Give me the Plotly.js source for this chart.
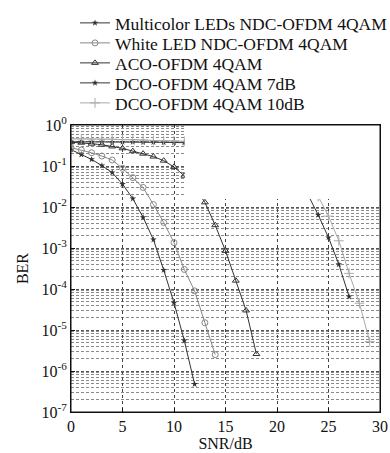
<!DOCTYPE html>
<html>
<head>
<meta charset="utf-8">
<script src="https://cdn.plot.ly/plotly-3.0.1.min.js"></script>
<style>html,body{margin:0;padding:0;background:#fff;}#chart{width:390px;height:453px;}</style>
</head>
<body>
<div id="chart"></div>
<script>
// ---- data ----
const seriesNames = [
  'Multicolor LEDs NDC-OFDM 4QAM',
  'White LED NDC-OFDM 4QAM',
  'ACO-OFDM 4QAM',
  'DCO-OFDM 4QAM 7dB',
  'DCO-OFDM 4QAM 10dB'
];
const snrMulticolor = [0,1,2,3,4,5,6,7,8,9,10,11,12];
const berMulticolor = [0.25,0.19,0.145,0.102,0.069,0.036,0.016,5.6e-3,1.6e-3,2.9e-4,4.6e-5,5.5e-6,4.8e-7];

const snrWhite = [0,1,2,3,4,5,6,7,8,9,10,11,12,13,14];
const berWhite = [0.28,0.245,0.21,0.175,0.14,0.088,0.052,0.03,0.0115,4.2e-3,1.35e-3,3e-4,9e-5,1.5e-5,2.5e-6];

const snrACO = [0,1,2,3,4,5,6,7,8,9,10,11,12,13,14,15,16,17,18];
const berACO = [0.38,0.37,0.35,0.33,0.3,0.27,0.23,0.2,0.17,0.135,0.095,0.058,0.03,0.013,3.6e-3,8.5e-4,1.6e-4,3e-5,2.6e-6];

const snrDCO7 = [0,1,2,3,4,5,6,7,8,9,10,11,23,24,25,26,27];
const berDCO7 = [0.39,0.39,0.39,0.39,0.385,0.385,0.385,0.38,0.38,0.375,0.375,0.37,0.02,6.4e-3,1.8e-3,4e-4,6.5e-5];

const snrDCO10 = [0,1,2,3,4,5,6,7,8,9,10,11,24,25,26,27,28,29];
const berDCO10 = [0.46,0.46,0.455,0.45,0.45,0.44,0.44,0.43,0.42,0.415,0.41,0.40,0.018,6e-3,1.5e-3,2.4e-4,4.5e-5,5.2e-6];

const xTicks = [0,5,10,15,20,25,30];
const yTicks = [1,1e-1,1e-2,1e-3,1e-4,1e-5,1e-6,1e-7];
const yTickText = ['10<sup>0</sup>','10<sup>-1</sup>','10<sup>-2</sup>','10<sup>-3</sup>','10<sup>-4</sup>','10<sup>-5</sup>','10<sup>-6</sup>','10<sup>-7</sup>'];

// minor log grid (2..9 in each decade)
const yMinor = [];
for (let e = -7; e < 0; e++) for (let m = 2; m <= 9; m++) yMinor.push(m * Math.pow(10, e));

const FONT = 'Liberation Serif, Times New Roman, serif';

function tr(x, y, i, color, symbol, size, lw, mlw, legendId) {
  return {
    x: x, y: y, name: seriesNames[i], type: 'scatter', mode: 'lines+markers',
    line: {color: color, width: lw},
    marker: {symbol: symbol, size: size, color: color, line: {color: color, width: mlw}},
    legend: legendId
  };
}

const traces = [
  tr(snrMulticolor, berMulticolor, 0, '#333', 'star', 5, 1, 0, 'legend'),
  tr(snrWhite, berWhite, 1, '#888', 'circle-open', 6, 1, 1, 'legend2'),
  tr(snrACO, berACO, 2, '#333', 'triangle-up-open', 6, 1, 1, 'legend3'),
  tr(snrDCO7, berDCO7, 3, '#333', 'star', 5, 1, 0, 'legend4'),
  tr(snrDCO10, berDCO10, 4, '#aaa', 'cross-thin', 7, 1, 1, 'legend5')
];

function leg(py) {
  return {x: 0.013, xanchor: 'left', y: 1 + (125 - py) / 287, yanchor: 'middle',
    bgcolor: 'rgba(0,0,0,0)', borderwidth: 0, font: {family: FONT, size: 17.5, color: '#111'}};
}

const layout = {
  width: 390, height: 453,
  margin: {l: 71, r: 10, t: 125, b: 41, pad: 0, autoexpand: false},
  paper_bgcolor: '#fff', plot_bgcolor: '#fff',
  showlegend: true,
  legend: leg(23), legend2: leg(43), legend3: leg(63), legend4: leg(83), legend5: leg(103),
  font: {family: FONT, color: '#111'},
  xaxis: {
    range: [0, 30], tickvals: xTicks, ticktext: xTicks.map(String),
    showgrid: true, gridcolor: '#444', griddash: '3px,3px', gridwidth: 1,
    zeroline: false, showline: true, linecolor: '#111', linewidth: 1, mirror: true,
    ticks: 'inside', ticklen: 4, tickcolor: '#111',
    tickfont: {family: FONT, size: 16, color: '#111'},
    title: {text: 'SNR/dB', font: {family: FONT, size: 16, color: '#111'}, standoff: 2},
    automargin: false
  },
  yaxis: {
    type: 'log', range: [-7, 0], tickvals: yTicks, ticktext: yTickText,
    showgrid: true, gridcolor: '#555', griddash: '3px,2px', gridwidth: 1,
    minor: {tickvals: yMinor, showgrid: true, gridcolor: '#8a8a8a', griddash: '3px,2px', gridwidth: 1, ticks: ''},
    zeroline: false, showline: true, linecolor: '#111', linewidth: 1, mirror: true,
    ticks: 'inside', ticklen: 4, tickcolor: '#111',
    tickfont: {family: FONT, size: 16, color: '#111'},
    title: {text: 'BER', font: {family: FONT, size: 16, color: '#111'}, standoff: 8},
    automargin: false
  },
  shapes: [
    {type: 'rect', xref: 'x', yref: 'paper', x0: 11.07, x1: 30, y0: 0.742, y1: 1,
     fillcolor: '#fff', line: {width: 0}, layer: 'above'},
    {type: 'rect', xref: 'paper', yref: 'paper', x0: 0, x1: 1, y0: 0, y1: 1,
     fillcolor: 'rgba(0,0,0,0)', line: {color: '#111', width: 1}, layer: 'above'}
  ]
};

Plotly.newPlot('chart', traces, layout, {displayModeBar: false, staticPlot: true});
</script>
</body>
</html>
